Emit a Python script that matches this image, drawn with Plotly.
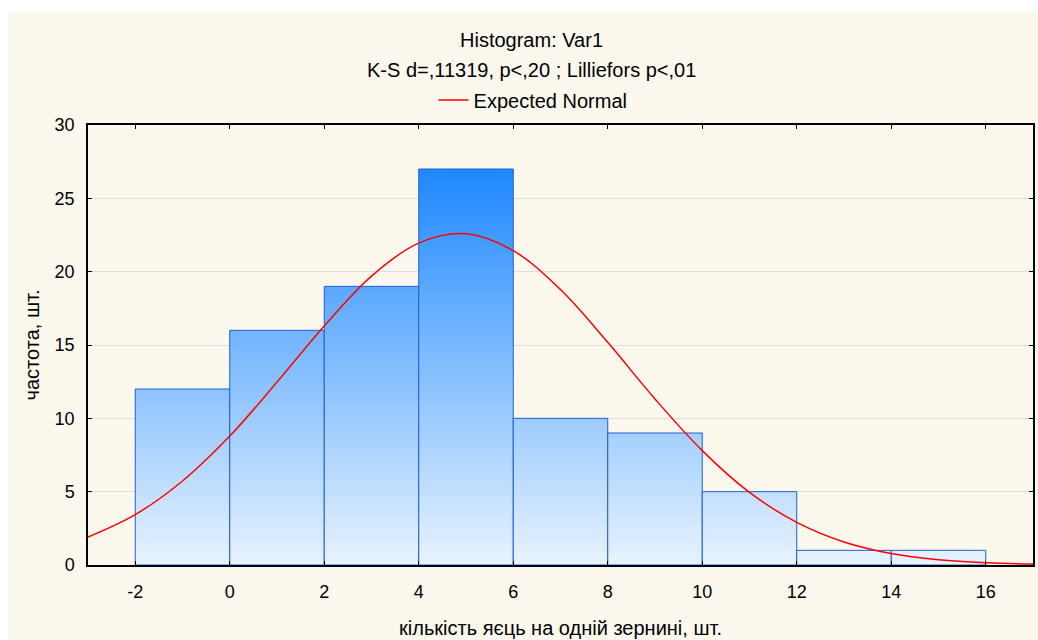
import plotly.graph_objects as go

# ---- data ----
bin_left = [-2, 0, 2, 4, 6, 8, 10, 12, 14]
bin_width = 2
counts = [12, 16, 19, 27, 10, 9, 5, 1, 1]

normal_x = [-3, -2, -1, 0, 1, 2, 3, 4, 5, 6, 7, 8, 9, 10, 11, 12, 13, 14, 15, 16, 17]
normal_y = [1.91, 3.44, 5.73, 8.79, 12.47, 16.3, 19.7, 21.95, 22.58, 21.43, 18.78,
            15.18, 11.32, 7.80, 4.95, 2.91, 1.57, 0.78, 0.36, 0.15, 0.06]

x_ticks = [-2, 0, 2, 4, 6, 8, 10, 12, 14, 16]
x_tick_labels = ["-2", "0", "2", "4", "6", "8", "10", "12", "14", "16"]
title = "Histogram: Var1"
subtitle = "K-S d=,11319, p<,20 ; Lilliefors p<,01"
x_title = "кількість яєць на одній зернині, шт."
y_title = "частота, шт."

FONT = "Liberation Sans, Arial, sans-serif"
FS = 20
TFS = 18

fig = go.Figure()

gmax = max(counts)
for left, c in zip(bin_left, counts):
    xs = [left, left, left + bin_width, left + bin_width, left]
    ys = [0, c, c, 0, 0]
    fig.add_trace(go.Scatter(
        x=xs, y=ys, mode="lines", fill="toself",
        fillgradient=dict(type="vertical",
                          colorscale=[[0, "#E8F3FF"], [1, "#1E88FF"]],
                          start=0, stop=gmax),
        line=dict(color="#1F5FD6", width=1),
        showlegend=False, hoverinfo="skip"))

fig.add_trace(go.Scatter(
    x=normal_x, y=normal_y, mode="lines", line=dict(color="#FF0000", width=1.5, shape="spline"),
    name="Expected Normal", showlegend=True))

# plot area pixel geometry
L, R, T, B = 88, 1035, 125, 565
W, H = 1038, 640
pw, ph = R - L, B - T

def px_x(p):
    return (p - L) / pw

def px_y(p):
    return (B - p) / ph

fig.add_shape(type="rect", xref="paper", yref="paper",
              x0=px_x(8), x1=px_x(W + 5), y0=px_y(H + 5), y1=px_y(12),
              fillcolor="#FDF8EE", line=dict(width=0), layer="below")

cx = px_x(532)
fig.add_annotation(text=title, x=cx, y=px_y(40), xref="paper", yref="paper",
                   showarrow=False, xanchor="center", yanchor="middle",
                   font=dict(family=FONT, size=FS, color="#000"))
fig.add_annotation(text=subtitle, x=cx, y=px_y(70), xref="paper", yref="paper",
                   showarrow=False, xanchor="center", yanchor="middle",
                   font=dict(family=FONT, size=FS, color="#000"))

fig.update_layout(
    width=W, height=H,
    margin=dict(l=L, r=W - R, t=T, b=H - B),
    paper_bgcolor="#FFFFFF", plot_bgcolor="#FFFFFF",
    font=dict(family=FONT, size=TFS, color="#000"),
    legend=dict(orientation="h", x=px_x(534), xanchor="center", y=px_y(100), yanchor="middle",
                bgcolor="rgba(0,0,0,0)", font=dict(family=FONT, size=FS, color="#000"),
                itemwidth=30),
    xaxis=dict(range=[-3, 17], tickvals=x_ticks, ticktext=x_tick_labels,
               showgrid=False, zeroline=False,
               showline=True, linecolor="#000", linewidth=1.5, mirror="ticks",
               ticks="inside", ticklen=4, tickcolor="#000", ticklabelstandoff=10,
               tickfont=dict(family=FONT, size=TFS),
               title=dict(text=x_title, standoff=20, font=dict(family=FONT, size=FS))),
    yaxis=dict(range=[0, 30], dtick=5, showgrid=True, gridcolor="#DDDDDD", gridwidth=1,
               zeroline=False, showline=True, linecolor="#000", linewidth=1.5, mirror="ticks",
               ticks="inside", ticklen=4, tickcolor="#000", ticklabelstandoff=8,
               tickfont=dict(family=FONT, size=TFS),
               title=dict(text=y_title, standoff=10, font=dict(family=FONT, size=FS))),
)

fig.write_html("out.html", config={"displayModeBar": False},
               post_script="document.body.style.margin='0';document.body.style.overflow='hidden';")
